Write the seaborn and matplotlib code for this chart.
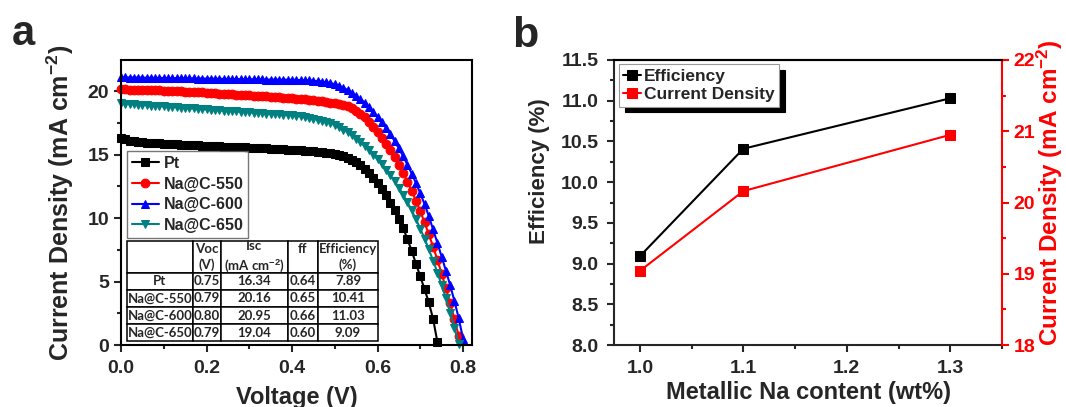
import matplotlib
matplotlib.use("Agg")
import matplotlib.pyplot as plt
import seaborn as sns
import numpy as np
from matplotlib.ticker import MultipleLocator, FormatStrFormatter

# ---- panel a: J-V curves, sampled every 10 mV ----
v_step = 0.01
j_pt = [16.34, 16.20, 16.10, 16.05, 16.00, 15.97, 15.94, 15.92, 15.90, 15.88,
        15.86, 15.84, 15.82, 15.80, 15.79, 15.77, 15.75, 15.74, 15.72, 15.71,
        15.69, 15.68, 15.66, 15.65, 15.63, 15.62, 15.60, 15.59, 15.57, 15.56,
        15.54, 15.53, 15.51, 15.50, 15.48, 15.46, 15.45, 15.43, 15.41, 15.39,
        15.37, 15.35, 15.33, 15.31, 15.29, 15.26, 15.23, 15.20, 15.16, 15.11,
        15.05, 14.97, 14.87, 14.75, 14.58, 14.38, 14.14, 13.85, 13.52, 13.15,
        12.74, 12.28, 11.78, 11.22, 10.62, 9.96, 9.20, 8.35, 7.40, 6.40,
        5.40, 4.40, 3.35, 2.05, 0.25]
j_550 = [20.16, 20.14, 20.12, 20.11, 20.10, 20.09, 20.08, 20.07, 20.06, 20.05,
         20.03, 20.02, 20.00, 19.99, 19.97, 19.96, 19.94, 19.93, 19.91, 19.89,
         19.87, 19.85, 19.83, 19.81, 19.79, 19.77, 19.75, 19.73, 19.71, 19.69,
         19.67, 19.65, 19.63, 19.61, 19.59, 19.57, 19.54, 19.52, 19.49, 19.46,
         19.43, 19.40, 19.37, 19.34, 19.31, 19.27, 19.23, 19.19, 19.14, 19.09,
         19.05, 18.99, 18.91, 18.80, 18.65, 18.46, 18.22, 17.93, 17.58, 17.18,
         16.74, 16.31, 15.84, 15.33, 14.78, 14.19, 13.55, 12.87, 12.14, 11.36,
         10.53, 9.65, 8.72, 7.74, 6.71, 5.62, 4.48, 3.28, 2.02, 0.70]
j_600 = [21.10, 21.08, 21.07, 21.07, 21.06, 21.06, 21.05, 21.05, 21.04, 21.04,
         21.03, 21.03, 21.02, 21.02, 21.01, 21.01, 21.00, 21.00, 20.99, 20.99,
         20.98, 20.98, 20.97, 20.97, 20.96, 20.96, 20.95, 20.95, 20.94, 20.94,
         20.93, 20.93, 20.92, 20.92, 20.91, 20.91, 20.91, 20.90, 20.90, 20.90,
         20.89, 20.88, 20.87, 20.86, 20.84, 20.82, 20.79, 20.75, 20.70, 20.63,
         20.54, 20.42, 20.27, 20.09, 19.88, 19.64, 19.37, 19.07, 18.74, 18.38,
         17.99, 17.56, 17.10, 16.60, 16.06, 15.48, 14.86, 14.20, 13.50, 12.75,
         11.95, 11.10, 10.15, 9.10, 8.05, 6.95, 5.85, 4.70, 3.45, 2.10, 0.50]
j_650 = [19.04, 19.00, 18.98, 18.96, 18.93, 18.91, 18.89, 18.86, 18.84, 18.82,
         18.79, 18.77, 18.75, 18.72, 18.70, 18.68, 18.65, 18.63, 18.61, 18.58,
         18.56, 18.54, 18.51, 18.49, 18.47, 18.44, 18.42, 18.40, 18.37, 18.35,
         18.33, 18.30, 18.28, 18.26, 18.23, 18.21, 18.19, 18.16, 18.14, 18.12,
         18.10, 18.05, 18.00, 17.94, 17.88, 17.82, 17.75, 17.67, 17.58, 17.48,
         17.33, 17.16, 16.97, 16.76, 16.52, 16.26, 15.98, 15.68, 15.35, 15.00,
         14.63, 14.24, 13.82, 13.37, 12.89, 12.38, 11.83, 11.24, 10.60, 9.91,
         9.17, 8.38, 7.54, 6.65, 5.71, 4.72, 3.68, 2.55, 1.35, 0.10]

cell_names = ["Pt", "Na@C-550", "Na@C-600", "Na@C-650"]
cell_colors = ["black", "red", "blue", "#008080"]
cell_markers = ["s", "o", "^", "v"]
cell_j = [j_pt, j_550, j_600, j_650]

table_header = ["", "Voc\n(V)", "Isc\n(mA cm$^{-2}$)", "ff\n", "Efficiency\n(%)"]
voc = ["0.75", "0.79", "0.80", "0.79"]
isc = ["16.34", "20.16", "20.95", "19.04"]
ff = ["0.64", "0.65", "0.66", "0.60"]
eff = ["7.89", "10.41", "11.03", "9.09"]

# ---- panel b ----
na_content = [1.0, 1.1, 1.3]
efficiency = [9.09, 10.41, 11.03]
current_density = [19.04, 20.16, 20.95]

sns.set_style("ticks")
plt.rcParams["font.family"] = ["Liberation Sans", "DejaVu Sans"]
plt.rcParams["font.weight"] = "bold"
plt.rcParams["axes.labelweight"] = "bold"
plt.rcParams["mathtext.fontset"] = "custom"
plt.rcParams["mathtext.rm"] = "Liberation Sans:bold"
plt.rcParams["mathtext.it"] = "Liberation Sans:bold"
plt.rcParams["mathtext.bf"] = "Liberation Sans:bold"
plt.rcParams["axes.linewidth"] = 1.5

fig = plt.figure(figsize=(10.66, 4.07), dpi=100)
ax1 = fig.add_axes([121 / 1066, 62 / 407, 351 / 1066, 285 / 407])
ax2 = fig.add_axes([614 / 1066, 62 / 407, 388 / 1066, 285 / 407])

for name, col, mk, j in zip(cell_names, cell_colors, cell_markers, cell_j):
    v = np.arange(len(j)) * v_step
    sns.lineplot(x=v, y=j, ax=ax1, color=col, marker=mk, markersize=6.3,
                 markeredgecolor=col, linewidth=1.5, label=name, clip_on=False)

ax1.set_xlim(0, 0.821)
ax1.set_ylim(0, 22.45)
ax1.xaxis.set_major_locator(MultipleLocator(0.2))
ax1.xaxis.set_minor_locator(MultipleLocator(0.1))
ax1.yaxis.set_major_locator(MultipleLocator(5))
ax1.yaxis.set_minor_locator(MultipleLocator(2.5))
ax1.xaxis.set_major_formatter(FormatStrFormatter("%.1f"))
ax1.tick_params(which="both", direction="out", width=1.5, labelsize=14)
ax1.tick_params(which="major", length=5)
ax1.tick_params(which="minor", length=3)
ax1.tick_params(axis="x", pad=6)
ax1.set_xlabel("Voltage (V)", fontsize=17, labelpad=6)
ax1.set_ylabel("Current Density (mA cm$^{-2}$)", fontsize=18)
ax1.yaxis.set_label_coords(-0.128, 0.5)
for sp in ax1.spines.values():
    sp.set_visible(True)
    sp.set_color("black")

leg1 = ax1.legend(loc="upper left", bbox_to_anchor=(0.017, 0.68),
                  frameon=True, fancybox=False, borderaxespad=0, handlelength=1.7,
                  handletextpad=0.3, labelspacing=0.35, borderpad=0.3,
                  prop={"weight": "bold", "size": 11.5})
leg1.get_frame().set_edgecolor("#555555")
leg1.get_frame().set_linewidth(1.0)

rows = [[n, a, b, c, d] for n, a, b, c, d in zip(cell_names, voc, isc, ff, eff)]
tab = ax1.table(cellText=[table_header] + rows, cellLoc="center",
                colWidths=[0.263, 0.112, 0.267, 0.120, 0.239],
                bbox=[0.017, 0.014, 0.715, 0.351])
tab.auto_set_font_size(False)
for (r, c), cell in tab.get_celld().items():
    cell.set_linewidth(1.1)
    cell.set_edgecolor("black")
    cell.set_height(0.32 if r == 0 else 0.17)
    cell.get_text().set_fontsize(9.5)
    cell.get_text().set_fontfamily(["Lato", "DejaVu Sans"])
    cell.get_text().set_fontweight("bold")
    cell.get_text().set_linespacing(1.4)

fig.text(0.011, 0.889, "a", fontsize=30, fontweight="bold", va="baseline")
fig.text(0.480, 0.885, "b", fontsize=31, fontweight="bold", va="baseline")

# ---- panel b ----
ax3 = ax2.twinx()
sns.lineplot(x=na_content, y=efficiency, ax=ax2, color="black", marker="s",
             markersize=6.5, markeredgecolor="black", linewidth=1.5,
             label="Efficiency", legend=False)
sns.lineplot(x=na_content, y=current_density, ax=ax3, color="red", marker="s",
             markersize=6.5, markeredgecolor="red", linewidth=1.5,
             label="Current Density", legend=False)
ax2.set_xlim(0.975, 1.35)
ax2.set_ylim(8.0, 11.5)
ax3.set_ylim(18, 22)
ax2.xaxis.set_major_locator(MultipleLocator(0.1))
ax2.xaxis.set_minor_locator(MultipleLocator(0.05))
ax2.yaxis.set_major_locator(MultipleLocator(0.5))
ax2.yaxis.set_minor_locator(MultipleLocator(0.25))
ax3.yaxis.set_major_locator(MultipleLocator(1))
ax3.yaxis.set_minor_locator(MultipleLocator(0.5))
ax2.xaxis.set_major_formatter(FormatStrFormatter("%.1f"))
ax2.yaxis.set_major_formatter(FormatStrFormatter("%.1f"))
for a in (ax2, ax3):
    a.tick_params(which="both", direction="out", width=1.5, labelsize=14)
    a.tick_params(which="major", length=5)
    a.tick_params(which="minor", length=3)
ax2.tick_params(axis="x", pad=6)
ax2.tick_params(axis="y", pad=6)
ax3.tick_params(axis="y", which="both", colors="red")
ax2.set_xlabel("Metallic Na content (wt%)", fontsize=17, labelpad=3)
ax2.set_ylabel("Efficiency (%)", fontsize=16)
ax2.yaxis.set_label_coords(-0.165, 0.61)
ax3.set_ylabel("Current Density (mA cm$^{-2}$)", fontsize=17.5, color="red")
ax3.yaxis.set_label_coords(1.085, 0.533)
ax2.spines["right"].set_visible(False)
ax3.spines["left"].set_visible(False)
ax3.spines["bottom"].set_visible(False)
ax3.spines["right"].set_color("red")
ax3.spines["top"].set_color("black")
ax2.spines["top"].set_color("black")

h2, l2 = ax2.get_legend_handles_labels()
h3, l3 = ax3.get_legend_handles_labels()
leg2 = ax3.legend(h2 + h3, l2 + l3, loc="upper left", bbox_to_anchor=(0.013, 0.985),
                  borderaxespad=0, frameon=True, fancybox=False,
                  shadow={"color": "black", "alpha": 1.0, "ox": 4, "oy": -4},
                  handlelength=1.0, handletextpad=0.2, labelspacing=0.2,
                  borderpad=0.25, prop={"weight": "bold", "size": 12.5})
leg2.get_frame().set_edgecolor("#999999")
leg2.get_frame().set_linewidth(0.8)

fig.savefig("out.png", dpi=100)
